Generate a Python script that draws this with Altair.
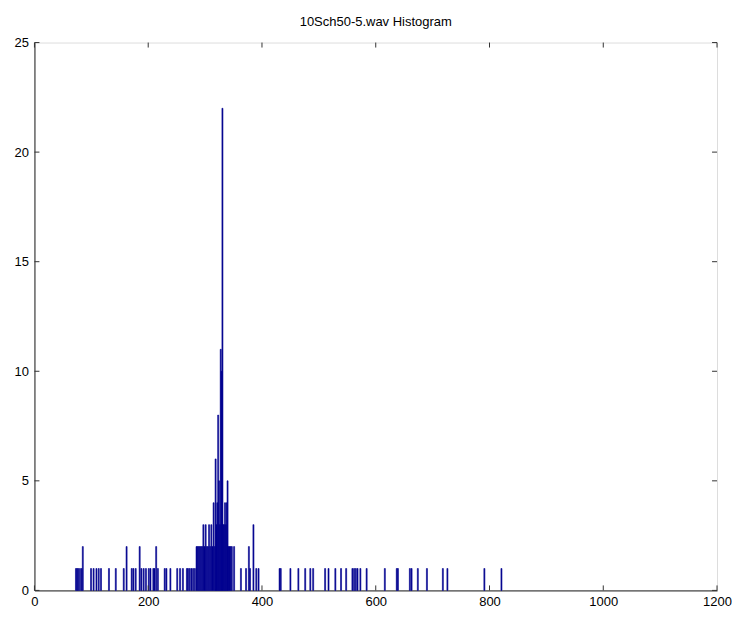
import altair as alt
import pandas as pd

# Histogram bin centres (Hz) and counts
centers = [73, 75, 77, 80, 83, 85,
           99.5, 104, 109, 113, 117, 131, 143, 157, 162, 171, 174, 178,
           185, 188, 192, 196, 201, 204, 209, 211, 214, 217, 229, 232, 239,
           251, 256, 261, 268, 270, 273, 276, 279, 282,
           285, 287, 289, 291, 293, 295, 297, 299, 301, 303, 305, 307, 309,
           311, 313, 315, 317, 318.5, 320, 321.5, 323, 324.5, 326, 327.5,
           329, 330.5, 332, 333.5, 335, 336.5, 338, 339.5, 341, 343, 345,
           347, 351, 363, 372, 377, 379, 385, 390, 394,
           431, 433, 450, 464, 476, 485, 490, 511, 517, 529, 539, 548,
           559, 562, 565, 568, 573, 584, 616, 637, 639, 660, 663, 674,
           690, 718, 726, 791, 821]
counts = [1, 1, 1, 1, 1, 2,
          1, 1, 1, 1, 1, 1, 1, 1, 2, 1, 1, 1,
          2, 1, 1, 1, 1, 1, 1, 1, 2, 1, 1, 1, 1,
          1, 1, 1, 1, 1, 1, 1, 1, 1,
          2, 2, 2, 2, 2, 2, 3, 2, 3, 2, 2, 3, 2,
          3, 2, 4, 2, 6, 3, 4, 8, 5, 3, 11,
          10, 22, 3, 3, 4, 3, 4, 5, 2, 2, 2,
          2, 2, 1, 1, 2, 1, 3, 1, 1,
          1, 1, 1, 1, 1, 1, 1, 1, 1, 1, 1, 1,
          1, 1, 1, 1, 1, 1, 1, 1, 1, 1, 1, 1,
          1, 1, 1, 1, 1]
bin_width = 1.8

x_ticks = [0, 200, 400, 600, 800, 1000, 1200]
y_ticks = [0, 5, 10, 15, 20, 25]

df = pd.DataFrame({"c": centers, "n": counts})
df["lo"] = df["c"] - bin_width / 2
df["hi"] = df["c"] + bin_width / 2

W, H = 684, 549
FONT = "Liberation Sans"

xs = alt.Scale(domain=[0, 1200], nice=False, zero=False)
ys = alt.Scale(domain=[0, 25], nice=False)

bars = alt.Chart(df).mark_bar(color="#00008F", stroke="#00008F", strokeWidth=0.6).encode(
    x=alt.X("lo:Q", scale=xs,
            axis=alt.Axis(values=x_ticks, ticks=False, grid=False, title=None,
                          labelFontSize=13, labelFont=FONT, labelColor="black",
                          labelPadding=5, domainColor="#222", labelFlush=False, format="d")),
    x2="hi:Q",
    y=alt.Y("n:Q", scale=ys,
            axis=alt.Axis(values=y_ticks, ticks=False, grid=False, title=None,
                          labelFontSize=13, labelFont=FONT, labelColor="black",
                          labelPadding=6, domainColor="#222", labelFlush=False, format="d")),
    y2=alt.datum(0),
)

xt = pd.DataFrame({"t": x_ticks})
yt = pd.DataFrame({"t": y_ticks})
tick_color = "#333"
xb = alt.Chart(xt).mark_rule(color=tick_color).encode(x=alt.X("t:Q", scale=xs), y=alt.value(H), y2=alt.value(H - 5))
xtop = alt.Chart(xt).mark_rule(color=tick_color).encode(x=alt.X("t:Q", scale=xs), y=alt.value(0), y2=alt.value(5))
yl = alt.Chart(yt).mark_rule(color=tick_color).encode(y=alt.Y("t:Q", scale=ys), x=alt.value(0), x2=alt.value(5))
yr = alt.Chart(yt).mark_rule(color=tick_color).encode(y=alt.Y("t:Q", scale=ys), x=alt.value(W), x2=alt.value(W - 5))

chart = alt.layer(bars, xb, xtop, yl, yr).properties(
    width=W, height=H,
    title=alt.TitleParams("10Sch50-5.wav Histogram", font=FONT, fontSize=13,
                          fontWeight="normal", color="black", offset=8),
    autosize=alt.AutoSizeParams(type="none"),
    padding={"left": 26.5, "top": 34, "right": 15, "bottom": 18},
).configure_view(stroke="#222", strokeWidth=1).configure(background="white")

chart.save("out.html", embed_options={"renderer": "svg", "actions": False})
